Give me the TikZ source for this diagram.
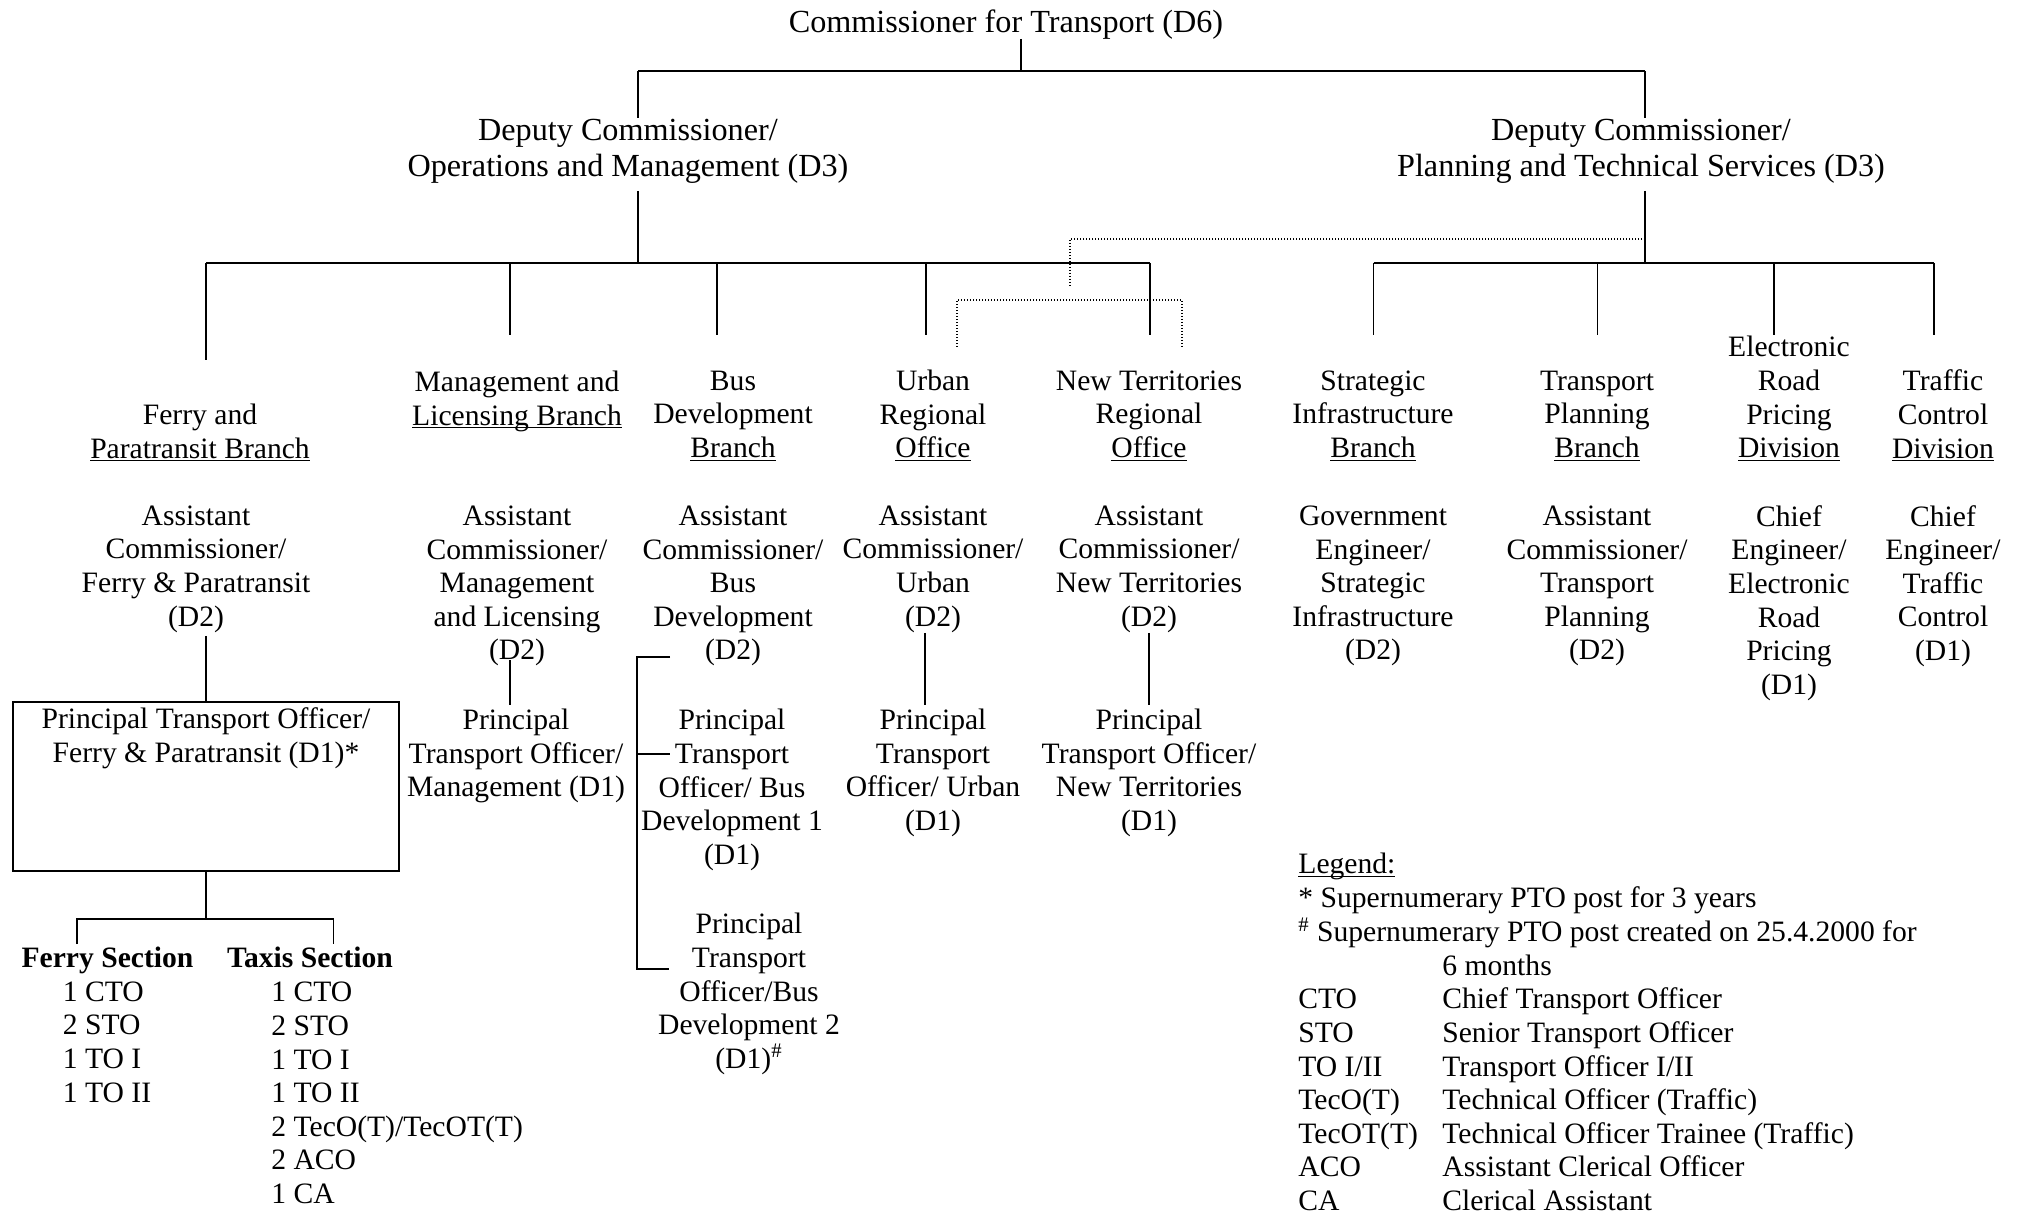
\documentclass[tikz,border=0pt]{standalone}
\usepackage{fontspec}
\setmainfont{Liberation Serif}
\newcommand\txtfont{\fontsize{14.8pt}{16.8pt}\selectfont}
\newcommand\topfont{\fontsize{16.1pt}{18pt}\selectfont}
\newcommand\ulin[1]{\underline{\smash{#1}}}
\begin{document}
\begin{tikzpicture}[x=0.5pt,y=-0.5pt,
  txt/.style={align=center,inner sep=0pt,font=\txtfont},
  topt/.style={align=center,inner sep=0pt,font=\topfont},
  conn/.style={line width=0.7pt},
  dots/.style={line width=0.6pt,dash pattern=on 0.7pt off 0.8pt}]
\useasboundingbox (0,0) rectangle (2024,1213);
\fill[white] (0,0) rectangle (2024,1213);

% ---------- top level ----------
\node[topt] (cft) at (1006,25) {Commissioner for Transport (D6)};
\node[topt] (dcom) at (628,151) {Deputy Commissioner/\\Operations and Management (D3)};
\node[topt] (dcpt) at (1641,151) {Deputy Commissioner/\\Planning and Technical Services (D3)};

% ---------- branches ----------
\node[txt] (fpb) at (200,433) {Ferry and\\\ulin{Paratransit Branch}};
\node[txt] (mlb) at (517,400) {Management and\\\ulin{Licensing Branch}};
\node[txt] (bdb) at (733,416) {Bus\\Development\\\ulin{Branch}};
\node[txt] (uro) at (933,416) {Urban\\Regional\\\ulin{Office}};
\node[txt] (nto) at (1149,416) {New Territories\\Regional\\\ulin{Office}};
\node[txt] (sib) at (1373,416) {Strategic\\Infrastructure\\\ulin{Branch}};
\node[txt] (tpb) at (1597,416) {Transport\\Planning\\\ulin{Branch}};
\node[txt] (erp) at (1789,399) {Electronic\\Road\\Pricing\\\ulin{Division}};
\node[txt] (tcd) at (1943,416) {Traffic\\Control\\\ulin{Division}};

% ---------- heads ----------
\node[txt] (acfp) at (196,569) {Assistant\\Commissioner/\\Ferry \& Paratransit\\(D2)};
\node[txt] (acml) at (517,586) {Assistant\\Commissioner/\\Management\\and Licensing\\(D2)};
\node[txt] (acbd) at (733,586) {Assistant\\Commissioner/\\Bus\\Development\\(D2)};
\node[txt] (acu) at (933,569) {Assistant\\Commissioner/\\Urban\\(D2)};
\node[txt] (acnt) at (1149,569) {Assistant\\Commissioner/\\New Territories\\(D2)};
\node[txt] (gesi) at (1373,586) {Government\\Engineer/\\Strategic\\Infrastructure\\(D2)};
\node[txt] (actp) at (1597,586) {Assistant\\Commissioner/\\Transport\\Planning\\(D2)};
\node[txt] (ceerp) at (1789,603) {Chief\\Engineer/\\Electronic\\Road\\Pricing\\(D1)};
\node[txt] (cetc) at (1943,586) {Chief\\Engineer/\\Traffic\\Control\\(D1)};

% ---------- principal transport officers ----------
\node[draw,line width=0.9pt,minimum width=193pt,minimum height=84.5pt,inner sep=0pt] (pbox) at (206,786.5) {};
\node[txt] (ptofp) at (206,738) {Principal Transport Officer/\\Ferry \& Paratransit (D1)*};
\node[txt] (ptom) at (516,756) {Principal\\Transport Officer/\\Management (D1)};
\node[txt] (ptob1) at (732,790) {Principal\\Transport\\Officer/ Bus\\Development 1\\(D1)};
\node[txt] (ptob2) at (749,994) {Principal\\Transport\\Officer/Bus\\Development 2\\(D1)\textsuperscript{\#}};
\node[txt] (ptou) at (933,773) {Principal\\Transport\\Officer/ Urban\\(D1)};
\node[txt] (ptont) at (1149,773) {Principal\\Transport Officer/\\New Territories\\(D1)};

% ---------- sections ----------
\node[txt,font=\txtfont\bfseries] (fsec) at (107.5,960) {Ferry Section};
\node[txt,font=\txtfont\bfseries] (tsec) at (310,957) {Taxis Section};
\node[txt,align=left,anchor=west] (fitems) at (62.5,1042) {1 CTO\\2 STO\\1 TO I\\1 TO II};
\node[txt,align=left,anchor=west] (titems) at (271,1093) {1 CTO\\2 STO\\1 TO I\\1 TO II\\2 TecO(T)/TecOT(T)\\2 ACO\\1 CA};

% ---------- legend ----------
\node[anchor=north west,inner sep=0pt,font=\txtfont] (legend) at (1298,850) {%
\begin{tabular}{@{}p{72pt}@{}l@{}}
\multicolumn{2}{@{}l@{}}{\ulin{Legend:}}\\
\multicolumn{2}{@{}l@{}}{* Supernumerary PTO post for 3 years}\\
\multicolumn{2}{@{}l@{}}{\textsuperscript{\#} Supernumerary PTO post created on 25.4.2000 for}\\
 & 6 months\\
CTO & Chief Transport Officer\\
STO & Senior Transport Officer\\
TO I/II & Transport Officer I/II\\
TecO(T) & Technical Officer (Traffic)\\
TecOT(T) & Technical Officer Trainee (Traffic)\\
ACO & Assistant Clerical Officer\\
CA & Clerical Assistant
\end{tabular}};

% ---------- connectors ----------
\coordinate (t0) at (1021,39);
\coordinate (tj) at (1021,71);
\coordinate (tl) at (638,71);
\coordinate (tr) at (1645,71);
\draw[conn] (t0) -- (tj);
\draw[conn] (tl) -- (tr);
\draw[conn] (tl) -- (tl |- dcom.north);
\draw[conn] (tr) -- (tr |- dcpt.north);

% left branch bar
\coordinate (l0) at (638,191);
\coordinate (lj) at (638,263);
\draw[conn] (l0) -- (lj);
\coordinate (la) at (206,263);
\coordinate (lb) at (510,263);
\coordinate (lc) at (717,263);
\coordinate (ld) at (926,263);
\coordinate (le) at (1150,263);
\draw[conn] (la) -- (le);
\coordinate (laE) at (206,360);
\coordinate (lbE) at (510,335);
\coordinate (lcE) at (717,335);
\coordinate (ldE) at (926,335);
\coordinate (leE) at (1150,335);
\draw[conn] (la) -- (laE);
\draw[conn] (lb) -- (lbE);
\draw[conn] (lc) -- (lcE);
\draw[conn] (ld) -- (ldE);
\draw[conn] (le) -- (leE);

% right branch bar
\coordinate (r0) at (1645,191);
\coordinate (rj) at (1645,263);
\draw[conn] (r0) -- (rj);
\coordinate (ra) at (1373.5,263);
\coordinate (rb) at (1597.5,263);
\coordinate (rc) at (1774,263);
\coordinate (rd) at (1934,263);
\draw[conn] (ra) -- (rd);
\coordinate (raE) at (1373.5,335);
\coordinate (rbE) at (1597.5,335);
\coordinate (rcE) at (1774,335);
\coordinate (rdE) at (1934,335);
\draw[conn] (ra) -- (raE);
\draw[conn] (rb) -- (rbE);
\draw[conn] (rc) -- (rcE);
\draw[conn] (rd) -- (rdE);

% dotted links
\coordinate (d0) at (1645,239);
\coordinate (d1) at (1070,239);
\coordinate (d2) at (1070,287);
\draw[dots] (d0) -- (d1) -- (d2);
\coordinate (e0) at (957,347);
\coordinate (e1) at (957,300);
\coordinate (e2) at (1182,300);
\coordinate (e3) at (1182,347);
\draw[dots] (e0) -- (e1) -- (e2) -- (e3);

% ferry
\coordinate (f0) at (206,636);
\draw[conn] (f0) -- (pbox.north);
\coordinate (fj) at (206,919);
\coordinate (fl) at (77,919);
\coordinate (fr) at (333.5,919);
\coordinate (flE) at (77,944);
\coordinate (frE) at (333.5,944);
\draw[conn] (pbox.south) -- (fj);
\draw[conn] (flE) -- (fl) -- (fr) -- (frE);

% management
\coordinate (m0) at (510,660);
\coordinate (m1) at (510,705);
\draw[conn] (m0) -- (m1);

% bus development bracket
\coordinate (b0) at (670,657);
\coordinate (b1) at (637,657);
\coordinate (b2) at (637,969);
\coordinate (b3) at (669,969);
\coordinate (b4) at (637,754);
\coordinate (b5) at (670,754);
\draw[conn] (b0) -- (b1) -- (b2) -- (b3);
\draw[conn] (b4) -- (b5);

% urban and new territories
\coordinate (u0) at (925,633);
\coordinate (u1) at (925,705);
\draw[conn] (u0) -- (u1);
\coordinate (n0) at (1149,633);
\coordinate (n1) at (1149,705);
\draw[conn] (n0) -- (n1);
\end{tikzpicture}
\end{document}
